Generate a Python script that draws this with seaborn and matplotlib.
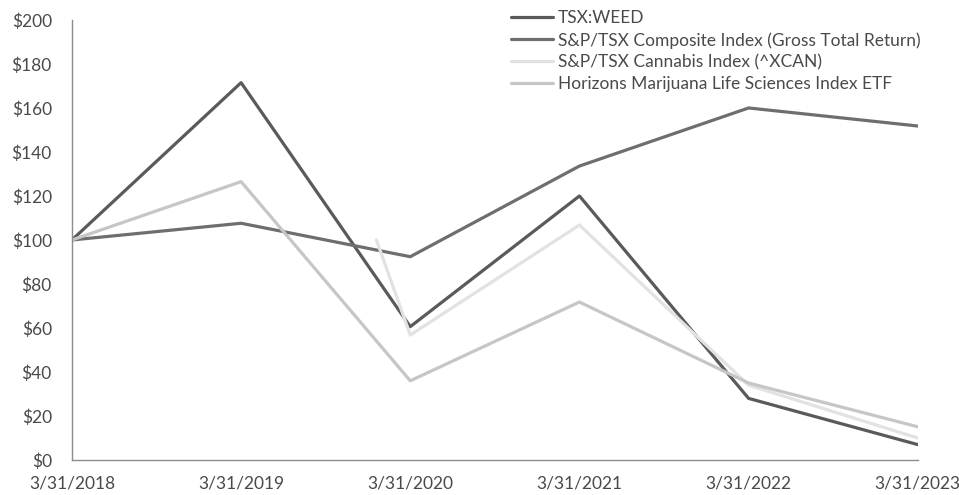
import matplotlib
matplotlib.use("Agg")
import matplotlib.pyplot as plt
import seaborn as sns
import pandas as pd

tick_labels = ["3/31/2018", "3/31/2019", "3/31/2020", "3/31/2021", "3/31/2022", "3/31/2023"]
x_main = [0, 1, 2, 3, 4, 5]
x_xcan = [1.8, 2, 3, 4, 5]

weed = [100, 171.5, 60.6, 120, 28, 7]
composite = [100, 107.6, 92.4, 133.6, 160, 151.8]
xcan = [100, 56.8, 106.8, 34, 10]
horizons = [100, 126.5, 36, 71.8, 35, 15.1]

names = ["TSX:WEED",
         "S&P/TSX Composite Index (Gross Total Return)",
         "S&P/TSX Cannabis Index (^XCAN)",
         "Horizons Marijuana Life Sciences Index ETF"]
colors = ["#5a5a5a", "#6e6e6e", "#e2e2e2", "#c6c6c6"]

rows = []
for name, xs, vals in [(names[0], x_main, weed), (names[1], x_main, composite),
                       (names[2], x_xcan, xcan), (names[3], x_main, horizons)]:
    for xv, v in zip(xs, vals):
        rows.append({"x": xv, "value": v, "series": name})
df = pd.DataFrame(rows)

sns.set_style("white")
plt.rcParams["font.family"] = ["Lato", "DejaVu Sans"]

fig = plt.figure(figsize=(9.59, 4.95), dpi=100)
ax = fig.add_axes([0.075, 0.0707, 0.882, 0.889])

sns.lineplot(data=df, x="x", y="value", hue="series", hue_order=names,
             palette=dict(zip(names, colors)), linewidth=2.3, ax=ax,
             legend=False, sort=True, estimator=None)

ax.set_xlim(0, 5)
ax.set_ylim(0, 200)
ax.set_xticks(x_main)
ax.set_xticklabels(tick_labels)
ax.set_yticks(range(0, 201, 20))
ax.set_yticklabels([f"${v}" for v in range(0, 201, 20)])
ax.set_xlabel("")
ax.set_ylabel("")
ax.tick_params(axis="both", length=0, labelsize=12.5, colors="#4a4a4a")
ax.tick_params(axis="y", pad=14.5)
ax.tick_params(axis="x", pad=11)
for s in ["top", "right"]:
    ax.spines[s].set_visible(False)
for s in ["left", "bottom"]:
    ax.spines[s].set_color("#8c8c8c")
    ax.spines[s].set_linewidth(1.0)

handles = ax.lines[:4]
leg = ax.legend(handles, names, loc="upper left", bbox_to_anchor=(0.522, 1.0),
                bbox_transform=fig.transFigure, frameon=False, fontsize=12.5,
                handlelength=2.4, handletextpad=0.3, labelspacing=0.32,
                borderaxespad=0.2)
for t in leg.get_texts():
    t.set_color("#4a4a4a")

fig.savefig("out.png", dpi=100)
